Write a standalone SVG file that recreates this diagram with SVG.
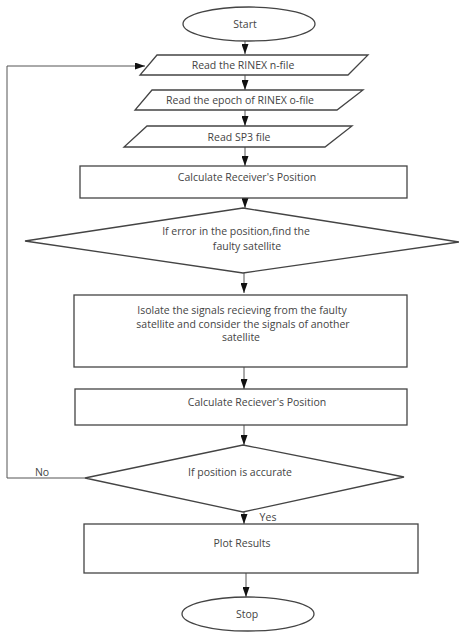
<svg xmlns="http://www.w3.org/2000/svg" width="459" height="638" viewBox="0 0 459 638">
<defs>
<marker id="ah" viewBox="0 0 10 7" refX="10" refY="3.5" markerWidth="10" markerHeight="7" markerUnits="userSpaceOnUse" orient="auto">
<path d="M0,0 L10,3.5 L0,7 Z" fill="#111"/>
</marker>
<style>
.s{fill:#fff;stroke:#444;stroke-width:1.3}
.t{font-family:"Open Sans",Lato,sans-serif;font-size:10.5px;fill:#444;text-anchor:middle}
.c{fill:none;stroke:#555;stroke-width:1}
</style>
</defs>
<rect width="459" height="638" fill="#fff"/>
<g id="connectors">
<line class="c" x1="245" y1="41" x2="245" y2="54" marker-end="url(#ah)"/>
<line class="c" x1="245" y1="75" x2="245" y2="90" marker-end="url(#ah)"/>
<line class="c" x1="245" y1="110" x2="245" y2="126" marker-end="url(#ah)"/>
<line class="c" x1="245" y1="147" x2="245" y2="166" marker-end="url(#ah)"/>
<line class="c" x1="245" y1="198" x2="245" y2="208" marker-end="url(#ah)"/>
<line class="c" x1="244" y1="273" x2="244" y2="293" marker-end="url(#ah)"/>
<line class="c" x1="244" y1="367" x2="244" y2="389" marker-end="url(#ah)"/>
<line class="c" x1="244" y1="425" x2="244" y2="445" marker-end="url(#ah)"/>
<line class="c" x1="244" y1="512" x2="244" y2="524" marker-end="url(#ah)"/>
<line class="c" x1="246" y1="573" x2="246" y2="597" marker-end="url(#ah)"/>
<polyline class="c" points="85,478 7,478 7,66 145,66" marker-end="url(#ah)"/>
<text class="t" x="42" y="476">No</text>
<text class="t" x="268" y="521">Yes</text>
</g>
<g id="start">
<ellipse class="s" cx="249" cy="24" rx="66" ry="17"/>
<text class="t" x="245" y="28">Start</text>
</g>
<g id="readN">
<polygon class="s" points="157,55 368,55 348,75 140,75"/>
<text class="t" x="243" y="69">Read the RINEX n-file</text>
</g>
<g id="readO">
<polygon class="s" points="152,90 363,90 337,110 135,110"/>
<text class="t" x="240" y="104">Read the epoch of RINEX o-file</text>
</g>
<g id="readSP3">
<polygon class="s" points="147,126 352,126 325,147 124,147"/>
<text class="t" x="239" y="141">Read SP3 file</text>
</g>
<g id="calc1">
<rect class="s" x="80" y="166" width="327" height="32"/>
<text class="t" x="247" y="181">Calculate Receiver's Position</text>
</g>
<g id="decision1">
<polygon class="s" points="243,208 459,242 243,273 25,241"/>
<text class="t" x="236" y="235">If error in the position,find the</text>
<text class="t" x="247" y="250">faulty satellite</text>
</g>
<g id="isolate">
<rect class="s" x="74" y="295" width="333" height="72"/>
<text class="t" x="242" y="314">Isolate the signals recieving from the faulty</text>
<text class="t" x="243" y="328">satellite and consider the signals of another</text>
<text class="t" x="241" y="341">satellite</text>
</g>
<g id="calc2">
<rect class="s" x="75" y="389" width="332" height="36"/>
<text class="t" x="257" y="406">Calculate Reciever's Position</text>
</g>
<g id="decision2">
<polygon class="s" points="243,445 404,477 243,512 85,478"/>
<text class="t" x="240" y="476">If position is accurate</text>
</g>
<g id="plot">
<rect class="s" x="84" y="524" width="334" height="49"/>
<text class="t" x="242" y="547">Plot Results</text>
</g>
<g id="stop">
<ellipse class="s" cx="248" cy="614" rx="66" ry="17"/>
<text class="t" x="247" y="618">Stop</text>
</g>
</svg>
